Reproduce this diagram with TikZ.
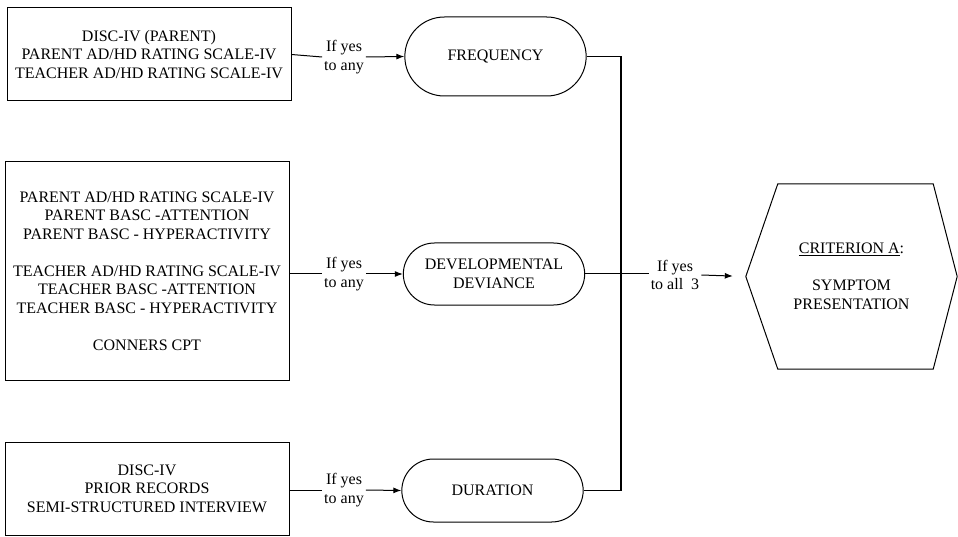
\documentclass[tikz,border=0pt]{standalone}
\usepackage{fontspec}
\setmainfont{Liberation Serif}
\usepackage{tikz}
\usetikzlibrary{shapes.misc, arrows.meta, positioning, calc}

\begin{document}
\begin{tikzpicture}[
    x=1pt, y=-1pt,
    every node/.style={font=\fontsize{16}{18.5}\selectfont},
    srcbox/.style={rectangle, draw, line width=1pt, minimum width=284pt, align=center},
    stage/.style={rounded rectangle, draw, line width=1pt, minimum width=188pt, align=center},
    yeslabel/.style={align=center, inner sep=2pt},
    link/.style={line width=1pt},
    linkarrow/.style={line width=1pt, -{Latex[length=8pt,width=6pt]}}
]
    \useasboundingbox (0,0) rectangle (958,537);

    % source boxes
    \node[srcbox, minimum height=93pt] (src1) at (149,54.5) {DISC-IV (PARENT)\\PARENT AD/HD RATING SCALE-IV\\TEACHER AD/HD RATING SCALE-IV};
    \node[srcbox, minimum height=218pt] (src2) at (147,271) {PARENT AD/HD RATING SCALE-IV\\PARENT BASC -ATTENTION\\PARENT BASC - HYPERACTIVITY\\[18.5pt]TEACHER AD/HD RATING SCALE-IV\\TEACHER BASC -ATTENTION\\TEACHER BASC - HYPERACTIVITY\\[18.5pt]CONNERS CPT};
    \node[srcbox, minimum height=93pt] (src3) at (147,488.5) {DISC-IV\\PRIOR RECORDS\\SEMI-STRUCTURED INTERVIEW};

    % stages
    \node[stage, minimum height=79pt] (freq) at (495.5,56.5) {FREQUENCY};
    \node[stage, minimum height=62pt] (devdev) at (494,274) {DEVELOPMENTAL\\DEVIANCE};
    \node[stage, minimum height=63pt] (dur) at (492.5,490.5) {DURATION};

    \node[yeslabel] (yes1) at (344,57) {If yes\\to any};
    \node[yeslabel] (yes2) at (344,274) {If yes\\to any};
    \node[yeslabel] (yes3) at (344,490) {If yes\\to any};
    \node[yeslabel] (yes4) at (675,275) {If yes\\to all~ 3};

    % criterion
    \node[minimum width=211pt, minimum height=185pt, align=center] (critA) at (851.5,276.5) {\underline{CRITERION A}:\\[18.5pt]SYMPTOM\\PRESENTATION};
    \draw[link] (critA.west) -- ([xshift=32pt]critA.north west) -- ([xshift=-24pt]critA.north east)
        -- (critA.east) -- ([xshift=-24pt]critA.south east) -- ([xshift=32pt]critA.south west) -- cycle;

    \coordinate (join) at (621,274);

    \draw[link] (src1.east) -- (yes1.west);
    \draw[linkarrow] (yes1.east) -- (freq.west);
    \draw[link] (src2.east |- yes2) -- (yes2.west);
    \draw[linkarrow] (yes2.east) -- (devdev.west);
    \draw[link] (src3.east |- yes3) -- (yes3.west);
    \draw[linkarrow] (yes3.east) -- (dur.west);

    \draw[link, line width=1.3pt] (freq.east) -| (join) |- (dur.east);
    \draw[link] (devdev.east) -- (yes4.west |- devdev.east);
    \draw[linkarrow, shorten >=13pt] (yes4.east) -- (critA.west);
\end{tikzpicture}
\end{document}
